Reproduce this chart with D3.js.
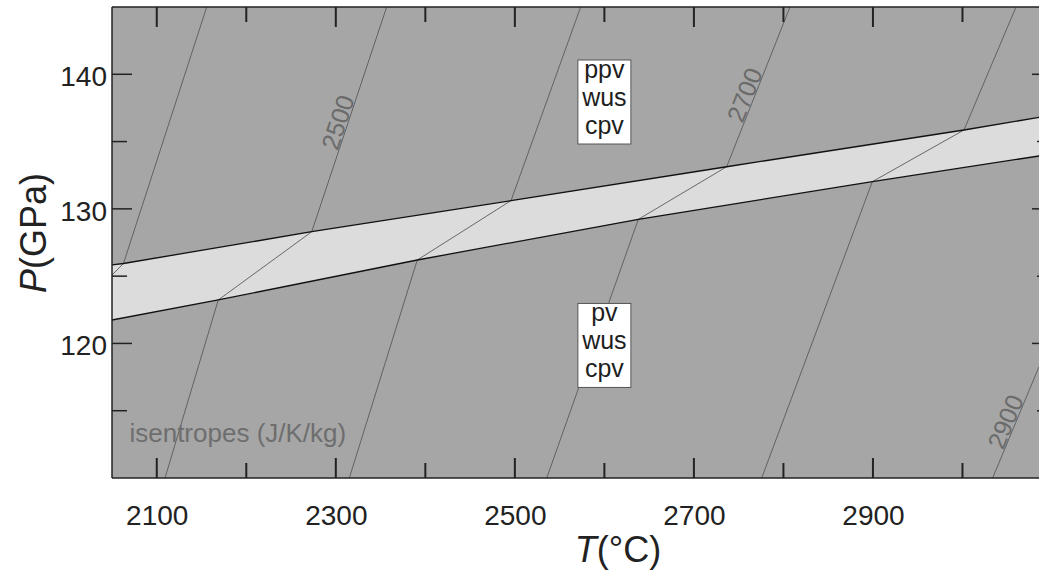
<!DOCTYPE html>
<html><head><meta charset="utf-8">
<script src="https://cdn.jsdelivr.net/npm/d3@7"></script>
<style>body{margin:0;background:#fff;overflow:hidden;} text{font-family:"Liberation Sans",Arial,Helvetica,sans-serif;}</style>
</head><body><svg id="c" width="1039" height="576"></svg>
<script>
// ---- data ----
const xDomain = [2050, 3100];
const yDomain = [110, 145];
const xMajorTicks = [2100, 2300, 2500, 2700, 2900];
const xMinorTicks = [2200, 2400, 2600, 2800, 3000];
const yMajorTicks = [120, 130, 140];
const yMinorTicks = [115, 125, 135];
// phase boundaries (T in °C, P in GPa)
const upperBoundary = [[2050,125.83],[2062.8,125.94],[2273.1,128.30],[2495.7,130.61],[2736.6,133.13],[3001.7,135.86],[3085.5,136.80],[3100,136.95]];
const lowerBoundary = [[2050,121.74],[2168.7,123.23],[2391.0,126.20],[2637.9,129.22],[2899.3,132.02],[3085.5,133.93],[3100,134.08]];
// isentropes (J/K/kg)
const isentropeNames = [2400, 2500, 2600, 2700, 2800, 2900];
const isentrope2400 = [[2155.8,145],[2062.8,125.94],[2050,125.08]];
const isentrope2500 = [[2356.8,145],[2273.1,128.30],[2168.7,123.23],[2109.2,110]];
const isentrope2600 = [[2573.5,145],[2495.7,130.61],[2391.0,126.20],[2315.1,110]];
const isentrope2700 = [[2807.3,145],[2736.6,133.13],[2637.9,129.22],[2535.6,110]];
const isentrope2800 = [[3059.8,145],[3001.7,135.86],[2899.3,132.02],[2775.7,110]];
const isentrope2900 = [[3085.5,118.27],[3033.7,110]];
const isentropes = [isentrope2400, isentrope2500, isentrope2600, isentrope2700, isentrope2800, isentrope2900];
const labelledIsentropes = [2500, 2700, 2900];
const labelPressures = [136.2, 138.2, 113.9];
const phaseLabels = [["ppv","wus","cpv"], ["pv","wus","cpv"]];
const phaseLabelT = [2600, 2600];
const phaseLabelP = [137.94, 119.85];
const noteText = "isentropes (J/K/kg)";
const noteT = 2069.5, noteP = 112.7;

// ---- drawing ----
const svg = d3.select("#c");
const L = 112, R = 1052, T = 7, B = 478;
const x = d3.scaleLinear().domain(xDomain).range([L, R]);
const y = d3.scaleLinear().domain(yDomain).range([B, T]);

svg.append("defs").append("clipPath").attr("id","clip")
  .append("rect").attr("x",L).attr("y",T).attr("width",R-L).attr("height",B-T);

const plot = svg.append("g").attr("clip-path","url(#clip)");
plot.append("rect").attr("x",L).attr("y",T).attr("width",R-L).attr("height",B-T).attr("fill","#a6a6a6");

const line = d3.line().x(d=>x(d[0])).y(d=>y(d[1]));
const band = upperBoundary.concat(lowerBoundary.slice().reverse());
plot.append("path").attr("d", line(band) + "Z").attr("fill","#dcdcdc");

plot.selectAll("path.isen").data(isentropes).join("path").attr("class","isen")
  .attr("d", line).attr("fill","none").attr("stroke","#5a5a5a").attr("stroke-width",0.9);

[upperBoundary, lowerBoundary].forEach(b=>{
  plot.append("path").attr("d", line(b)).attr("fill","none").attr("stroke","#111").attr("stroke-width",1.3);
});

labelledIsentropes.forEach((s,i)=>{
  const pts = isentropes[isentropeNames.indexOf(s)];
  const P = labelPressures[i];
  for (let k=0;k<pts.length-1;k++){
    const a=pts[k], b=pts[k+1];
    const lo=Math.min(a[1],b[1]), hi=Math.max(a[1],b[1]);
    if (P>=lo && P<=hi){
      const t=(P-a[1])/(b[1]-a[1]);
      const Tv=a[0]+t*(b[0]-a[0]);
      const px=x(Tv), py=y(P);
      const up = a[1]>b[1] ? [a,b] : [b,a];
      const dx=x(up[0][0])-x(up[1][0]), dy=y(up[0][1])-y(up[1][1]);
      const ang=Math.atan2(dy,dx)*180/Math.PI;
      plot.append("text").attr("transform",`translate(${px},${py}) rotate(${ang})`)
        .attr("text-anchor","middle").attr("dy",-1)
        .attr("font-size",25).attr("fill","#6b6b6b").text(s);
      break;
    }
  }
});

plot.append("text").attr("x",x(noteT)).attr("y",y(noteP)).attr("font-size",26)
  .attr("fill","#6e6e6e").text(noteText);

phaseLabels.forEach((lines,i)=>{
  const cx=x(phaseLabelT[i]), cy=y(phaseLabelP[i]);
  const g=plot.append("g");
  g.append("rect").attr("x",cx-26.5).attr("y",cy-42).attr("width",53).attr("height",84)
    .attr("fill","#fff").attr("stroke","#555").attr("stroke-width",1);
  lines.forEach((t,j)=>{
    g.append("text").attr("x",cx).attr("y",cy-24+j*28).attr("text-anchor","middle")
      .attr("font-size",25).attr("fill","#1e1e1e").text(t);
  });
});

// frame
const axc="#222";
[[L,R,T,T],[L,R,B,B],[L,L,T,B],[R,R,T,B]].forEach(s=>{
  svg.append("line").attr("x1",s[0]).attr("x2",s[1]).attr("y1",s[2]).attr("y2",s[3]).attr("stroke",axc).attr("stroke-width",1.5);
});

// inward ticks drawn from scales
const tk = svg.append("g").attr("stroke",axc);
xMajorTicks.concat(xMinorTicks).forEach(v=>{
  const len = xMajorTicks.includes(v) ? 20 : 15;
  tk.append("line").attr("x1",x(v)).attr("x2",x(v)).attr("y1",B).attr("y2",B-len).attr("stroke-width",2);
  tk.append("line").attr("x1",x(v)).attr("x2",x(v)).attr("y1",T).attr("y2",T+len).attr("stroke-width",2);
});
yMajorTicks.concat(yMinorTicks).forEach(v=>{
  const len = yMajorTicks.includes(v) ? 20 : 15;
  tk.append("line").attr("x1",L).attr("x2",L+len).attr("y1",y(v)).attr("y2",y(v)).attr("stroke-width",1.5);
  tk.append("line").attr("x1",R).attr("x2",R-len).attr("y1",y(v)).attr("y2",y(v)).attr("stroke-width",1.5);
});

// tick labels via axes
const gx = svg.append("g").attr("transform",`translate(0,${B})`)
  .call(d3.axisBottom(x).tickValues(xMajorTicks).tickSize(0).tickFormat(d3.format("d")));
gx.select(".domain").remove();
gx.selectAll(".tick line").remove();
gx.selectAll(".tick text").attr("font-size",28).attr("fill",axc)
  .attr("font-family","Liberation Sans, Arial, sans-serif").attr("y",27).attr("dy","0.71em");
const gy = svg.append("g").attr("transform",`translate(${L},0)`)
  .call(d3.axisLeft(y).tickValues(yMajorTicks).tickSize(0).tickFormat(d3.format("d")));
gy.select(".domain").remove();
gy.selectAll(".tick line").remove();
gy.selectAll(".tick text").attr("font-size",28).attr("fill",axc)
  .attr("font-family","Liberation Sans, Arial, sans-serif").attr("x",-5).attr("dy","0.4em");

// axis titles
const xt = svg.append("text").attr("x",618).attr("y",562).attr("text-anchor","middle").attr("font-size",36).attr("fill",axc);
xt.append("tspan").attr("font-style","italic").text("T");
xt.append("tspan").text("(°C)");
const yt = svg.append("text").attr("transform","translate(46,233) rotate(-90)").attr("text-anchor","middle").attr("font-size",36).attr("fill",axc);
yt.append("tspan").attr("font-style","italic").text("P");
yt.append("tspan").text("(GPa)");
</script></body></html>
